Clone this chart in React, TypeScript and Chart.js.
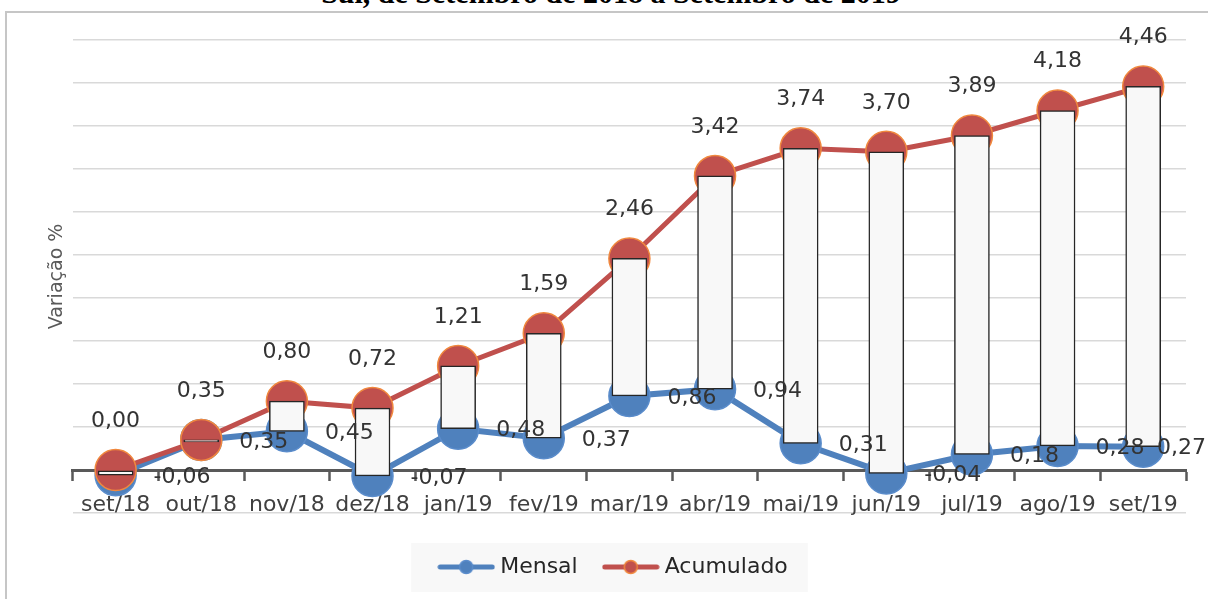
import React, { useEffect, useRef } from 'react';
import { Chart, registerables } from 'chart.js';

Chart.register(...registerables);

const categories = ['set/18', 'out/18', 'nov/18', 'dez/18', 'jan/19', 'fev/19', 'mar/19', 'abr/19', 'mai/19', 'jun/19', 'jul/19', 'ago/19', 'set/19'];
const mensal = [-0.06, 0.35, 0.45, -0.07, 0.48, 0.37, 0.86, 0.94, 0.31, -0.04, 0.18, 0.28, 0.27];
const acumulado = [0.0, 0.35, 0.8, 0.72, 1.21, 1.59, 2.46, 3.42, 3.74, 3.7, 3.89, 4.18, 4.46];
const yMin = -0.5;
const yMax = 5;
const yStep = 0.5;

const titleText = 'Sul, de Setembro de 2018 a Setembro de 2019';
const yTitle = 'Variação %';
const mensalLabel = 'Mensal';
const acumLabel = 'Acumulado';

const FONT = '"DejaVu Sans", "Noto Sans", sans-serif';
const BLUE = '#4f81bd';
const RED = '#c0504d';
const RED_EDGE = '#f0883e';

const fmt = (v: number) => v.toFixed(2).replace('.', ',');

function legendMarker(line: string, fill: string, edge: string) {
  const c = document.createElement('canvas');
  c.width = 58;
  c.height = 18;
  const g = c.getContext('2d')!;
  g.strokeStyle = line;
  g.lineWidth = 5;
  g.lineCap = 'round';
  g.beginPath();
  g.moveTo(3, 9);
  g.lineTo(55, 9);
  g.stroke();
  g.beginPath();
  g.arc(29, 9, 6.5, 0, Math.PI * 2);
  g.fillStyle = fill;
  g.fill();
  g.lineWidth = 1.5;
  g.strokeStyle = edge;
  g.stroke();
  return c;
}

const valueLabels = {
  id: 'valueLabels',
  afterDatasetsDraw(chart: any) {
    const ctx = chart.ctx;
    ctx.save();
    ctx.font = `22px ${FONT}`;
    ctx.fillStyle = '#333333';
    ctx.textBaseline = 'middle';
    chart.data.datasets.forEach((ds: any, di: number) => {
      const mode = ds.labelMode;
      if (!mode) return;
      const meta = chart.getDatasetMeta(di);
      meta.data.forEach((pt: any, i: number) => {
        const txt = fmt(ds.data[i]);
        if (mode === 'right') {
          const w = ctx.measureText(txt).width;
          let x = pt.x + 38;
          if (x + w > chart.width - 2) x = chart.width - 2 - w;
          ctx.textAlign = 'left';
          ctx.fillText(txt, x, pt.y + 2);
        } else {
          ctx.textAlign = 'center';
          ctx.fillText(txt, pt.x, pt.y - 49);
        }
      });
    });
    ctx.restore();
  },
};

const legendBackground = {
  id: 'legendBackground',
  beforeDraw(chart: any) {
    const lg = chart.legend;
    if (!lg || !lg.legendHitBoxes || !lg.legendHitBoxes.length) return;
    const hb = lg.legendHitBoxes;
    const first = hb[0];
    const last = hb[hb.length - 1];
    const cy = first.top + first.height / 2;
    const ctx = chart.ctx;
    ctx.save();
    ctx.fillStyle = '#f8f8f8';
    const left = first.left - 32;
    const right = last.left + last.width + 20;
    ctx.fillRect(left, cy - 24, right - left, 49);
    ctx.restore();
  },
};

export default function App() {
  const ref = useRef<HTMLCanvasElement | null>(null);

  useEffect(() => {
    if (!ref.current) return;
    const mMarker = legendMarker(BLUE, BLUE, '#5a8ccb');
    const aMarker = legendMarker(RED, RED, RED_EDGE);
    const chart = new Chart(ref.current, {
      type: 'bar',
      data: {
        labels: categories,
        datasets: [
          {
            type: 'bar',
            label: 'faixa',
            data: categories.map((_, i) => [mensal[i], acumulado[i]]) as any,
            backgroundColor: '#f8f8f8',
            borderColor: '#262626',
            borderWidth: 1.5,
            borderSkipped: false,
            barThickness: 35,
            minBarLength: 2,
            order: 0,
          } as any,
          {
            type: 'line',
            label: acumLabel,
            data: acumulado,
            borderColor: RED,
            borderWidth: 5,
            pointRadius: 20.5,
            pointBackgroundColor: RED,
            pointBorderColor: RED_EDGE,
            pointBorderWidth: 1.5,
            tension: 0,
            order: 1,
            labelMode: 'above',
          } as any,
          {
            type: 'line',
            label: mensalLabel,
            data: mensal,
            borderColor: BLUE,
            borderWidth: 6,
            pointRadius: 20.5,
            pointBackgroundColor: BLUE,
            pointBorderColor: '#5a8ccb',
            pointBorderWidth: 1.5,
            tension: 0,
            order: 2,
            labelMode: 'right',
          } as any,
        ],
      },
      options: {
        responsive: false,
        maintainAspectRatio: false,
        animation: false,
        devicePixelRatio: 1,
        layout: { padding: { left: 42, right: 19, top: 40, bottom: 11 } },
        plugins: {
          tooltip: { enabled: false },
          title: { display: false },
          legend: {
            display: true,
            position: 'bottom',
            align: 'center',
            title: { display: true, text: '', font: { size: 10, lineHeight: 1 }, padding: { top: 3, bottom: 0 } },
            labels: {
              font: { family: FONT, size: 22 },
              color: '#262626',
              usePointStyle: true,
              pointStyleWidth: 46,
              padding: 30,
              generateLabels: () => [
                { text: mensalLabel, pointStyle: mMarker, fillStyle: BLUE, strokeStyle: BLUE, lineWidth: 0, hidden: false, datasetIndex: 2, fontColor: '#262626' } as any,
                { text: acumLabel, pointStyle: aMarker, fillStyle: RED, strokeStyle: RED, lineWidth: 0, hidden: false, datasetIndex: 1, fontColor: '#262626' } as any,
              ],
            },
          },
        },
        scales: {
          x: {
            type: 'category',
            position: { y: 0 } as any,
            offset: true,
            grid: {
              display: true,
              offset: true,
              drawOnChartArea: false,
              drawTicks: true,
              tickLength: 9,
              tickWidth: 2.5,
              tickColor: '#595959',
              color: '#595959',
            },
            border: { display: true, color: '#595959', width: 3 },
            ticks: {
              color: '#404040',
              font: { family: FONT, size: 22 },
              padding: 13,
              maxRotation: 0,
              minRotation: 0,
              autoSkip: false,
            },
            afterFit: (s: any) => {
              s.height = 0;
            },
          } as any,
          y: {
            type: 'linear',
            min: yMin,
            max: yMax,
            ticks: { display: false, stepSize: yStep },
            grid: { color: '#d9d9d9', lineWidth: 1.5, drawTicks: false },
            border: { display: false },
            title: {
              display: true,
              text: yTitle,
              color: '#595959',
              font: { family: FONT, size: 19 },
              padding: { top: 4, bottom: 4 },
            },
          },
        },
      },
      plugins: [valueLabels, legendBackground],
    });
    return () => chart.destroy();
  }, []);

  return (
    <div style={{ position: 'fixed', left: 0, top: 0, width: 1208, height: 599, overflow: 'hidden', background: '#ffffff' }}>
      <div
        style={{
          position: 'absolute',
          left: 7,
          top: -22,
          width: 1208,
          textAlign: 'center',
          font: 'bold 30px "Liberation Serif", "Times New Roman", serif',
          lineHeight: '30px',
          color: '#000',
          whiteSpace: 'nowrap',
        }}
      >
        {titleText}
      </div>
      <div
        style={{
          position: 'absolute',
          left: 5,
          top: 11,
          width: 1240,
          height: 640,
          border: '2px solid #c6c6c6',
        }}
      />
      <canvas ref={ref} width={1208} height={599} style={{ position: 'absolute', left: 0, top: 0, width: 1208, height: 599 }} />
    </div>
  );
}
